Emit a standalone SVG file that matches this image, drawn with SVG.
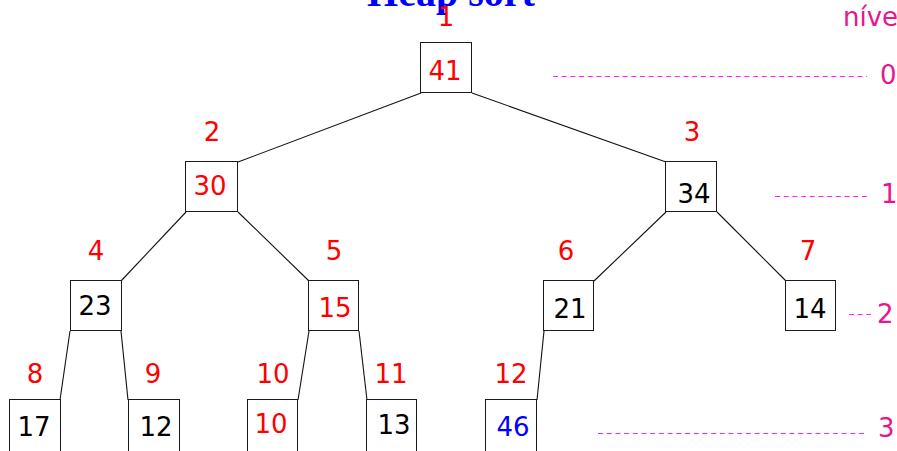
<svg xmlns="http://www.w3.org/2000/svg" width="897" height="451" viewBox="0 0 897 451">
  <style>
    .box { fill: #ffffff; stroke: #1a1a1a; stroke-width: 1; }
    .edge { stroke: #111111; stroke-width: 1.1; fill: none; }
    .t { font-family: "DejaVu Sans", Verdana, sans-serif; font-size: 26px; text-anchor: middle; }
    .idx { fill: #ff0000; }
    .val { fill: #000000; }
    .red { fill: #ff0000; }
    .blue { fill: #0000ff; }
    .lvl { font-family: "DejaVu Sans", Verdana, sans-serif; font-size: 26px; fill: #e8168c; }
    .guide { stroke: #ff22ff; stroke-width: 1; stroke-dasharray: 5 3.7; fill: none; }
    .title { font-family: "Liberation Serif", "Times New Roman", serif; font-weight: bold; font-size: 40px; fill: #0000ff; text-anchor: middle; }
  </style>

  <rect width="897" height="451" fill="#ffffff"/>

  <text class="title" x="451" y="6">Heap sort</text>

  <!-- tree edges: corner to corner -->
  <g id="edges">
    <line class="edge" x1="421" y1="93" x2="238" y2="162"/>
    <line class="edge" x1="472" y1="93" x2="666" y2="162"/>
    <line class="edge" x1="186" y1="212" x2="121" y2="281"/>
    <line class="edge" x1="238" y1="212" x2="309" y2="281"/>
    <line class="edge" x1="666" y1="212" x2="594" y2="281"/>
    <line class="edge" x1="717" y1="212" x2="786" y2="281"/>
    <line class="edge" x1="70" y1="331" x2="60" y2="400"/>
    <line class="edge" x1="121" y1="331" x2="128" y2="400"/>
    <line class="edge" x1="309" y1="331" x2="298" y2="400"/>
    <line class="edge" x1="359" y1="331" x2="367" y2="400"/>
    <line class="edge" x1="544" y1="331" x2="537" y2="400"/>
  </g>

  <!-- level 0 -->
  <g id="n1">
    <rect class="box" x="420.5" y="42.5" width="51" height="50"/>
    <text class="t idx" x="446" y="26">1</text>
    <text class="t red" x="445" y="80">41</text>
  </g>

  <!-- level 1 -->
  <g id="n2">
    <rect class="box" x="185.5" y="161.5" width="52" height="50"/>
    <text class="t idx" x="212" y="141">2</text>
    <text class="t red" x="210" y="195">30</text>
  </g>
  <g id="n3">
    <rect class="box" x="665.5" y="161.5" width="51" height="50"/>
    <text class="t idx" x="692" y="141">3</text>
    <text class="t val" x="694" y="203">34</text>
  </g>

  <!-- level 2 -->
  <g id="n4">
    <rect class="box" x="70.5" y="280.5" width="51" height="50"/>
    <text class="t idx" x="96" y="260">4</text>
    <text class="t val" x="95" y="315">23</text>
  </g>
  <g id="n5">
    <rect class="box" x="308.5" y="280.5" width="50" height="50"/>
    <text class="t idx" x="334" y="260">5</text>
    <text class="t red" x="335" y="317">15</text>
  </g>
  <g id="n6">
    <rect class="box" x="543.5" y="280.5" width="50" height="50"/>
    <text class="t idx" x="566" y="260">6</text>
    <text class="t val" x="570" y="318">21</text>
  </g>
  <g id="n7">
    <rect class="box" x="785.5" y="280.5" width="50" height="50"/>
    <text class="t idx" x="808" y="260">7</text>
    <text class="t val" x="810" y="318">14</text>
  </g>

  <!-- level 3 -->
  <g id="n8">
    <rect class="box" x="9.5" y="399.5" width="51" height="52"/>
    <text class="t idx" x="35" y="383">8</text>
    <text class="t val" x="34" y="436">17</text>
  </g>
  <g id="n9">
    <rect class="box" x="128.5" y="399.5" width="51" height="52"/>
    <text class="t idx" x="153" y="383">9</text>
    <text class="t val" x="156" y="436">12</text>
  </g>
  <g id="n10">
    <rect class="box" x="247.5" y="399.5" width="50" height="52"/>
    <text class="t idx" x="273" y="383">10</text>
    <text class="t red" x="271" y="433">10</text>
  </g>
  <g id="n11">
    <rect class="box" x="366.5" y="399.5" width="50" height="52"/>
    <text class="t idx" x="391" y="383">11</text>
    <text class="t val" x="394" y="434">13</text>
  </g>
  <g id="n12">
    <rect class="box" x="485.5" y="399.5" width="51" height="52"/>
    <text class="t idx" x="511" y="383">12</text>
    <text class="t blue" x="513" y="436">46</text>
  </g>

  <!-- level guides -->
  <g id="levels">
    <text class="lvl" x="843" y="26" font-size="24">níve</text>
    <line class="guide" x1="553" y1="76.5" x2="867" y2="76.5"/>
    <text class="lvl" x="880" y="84">0</text>
    <line class="guide" x1="775" y1="196.5" x2="870" y2="196.5"/>
    <text class="lvl" x="881" y="203">1</text>
    <line class="guide" x1="849" y1="314.5" x2="871" y2="314.5"/>
    <text class="lvl" x="877" y="323">2</text>
    <line class="guide" x1="598" y1="433.5" x2="866" y2="433.5"/>
    <text class="lvl" x="878" y="437">3</text>
  </g>
</svg>
